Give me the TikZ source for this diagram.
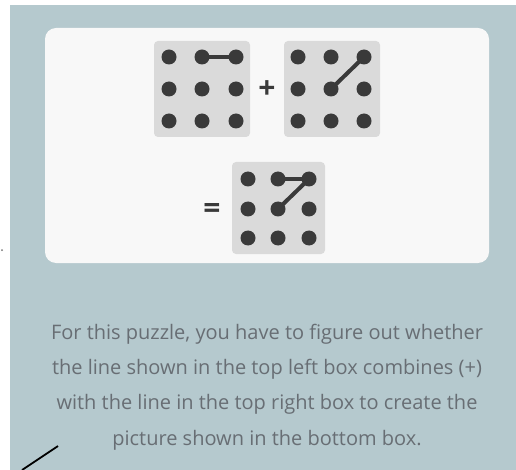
\documentclass[tikz,border=0pt]{standalone}
\usepackage{fontspec}
\setmainfont{Open Sans}
\definecolor{bgc}{HTML}{B5C9CE}
\definecolor{cardc}{HTML}{F8F8F8}
\definecolor{boxc}{HTML}{DADADA}
\definecolor{dotc}{HTML}{3A3A3A}
\definecolor{txtc}{HTML}{686E74}
\begin{document}
\begin{tikzpicture}[x=1pt,y=-1pt,
  dot/.style={circle,fill=dotc,inner sep=0pt,minimum size=15pt},
  link/.style={draw=dotc,line width=4pt},
  gridbox/.style={fill=boxc,rounded corners=4pt},
  sign/.style={text=dotc,font=\fontsize{30}{30}\selectfont\bfseries,inner sep=0pt}]
\useasboundingbox (0,0) rectangle (516,470);
\fill[white] (0,0) rectangle (516,470);
\fill[bgc] (10,5) rectangle (516,470);
\fill[cardc,rounded corners=11pt] (45,28) rectangle (489,263);
% box 1
\fill[gridbox] (154,41) rectangle (250,137);
\foreach \i/\x in {1/169,2/202,3/236}
  \foreach \j/\y in {1/57,2/89,3/121}
    \node[dot] (a\j\i) at (\x,\y) {};
\draw[link] (a12.center) -- (a13.center);
% box 2
\fill[gridbox] (284,41) rectangle (380,137);
\foreach \i/\x in {1/298,2/331,3/364}
  \foreach \j/\y in {1/57,2/89,3/121}
    \node[dot] (b\j\i) at (\x,\y) {};
\draw[link] (b22.center) -- (b13.center);
% box 3
\fill[gridbox] (232,162) rectangle (325,254);
\foreach \i/\x in {1/248,2/278,3/309}
  \foreach \j/\y in {1/179,2/209,3/238}
    \node[dot] (c\j\i) at (\x,\y) {};
\draw[link] (c12.center) -- (c13.center);
\draw[link] (c22.center) -- (c13.center);
% signs
\node[sign] (plus) at (267,90) {+};
\node[sign] (eq) at (212,211) {=};
% text
\node[text=txtc,align=center,font=\fontsize{20}{35.3}\selectfont] (txt) at (267,387)
 {For this puzzle, you have to figure out whether\\
  the line shown in the top left box combines (+)\\
  with the line in the top right box to create the\\
  picture shown in the bottom box.};
% stray marks
\coordinate (s1) at (22,470);
\coordinate (s2) at (58,446);
\draw[black,line width=1.8pt] (s1) -- (s2);
\fill[dotc!70] (2,250) circle (1pt);
\end{tikzpicture}
\end{document}
